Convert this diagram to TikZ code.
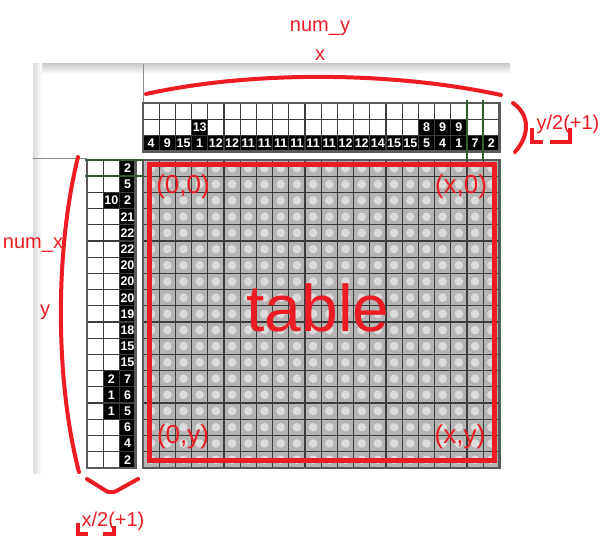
\documentclass[tikz,border=0pt]{standalone}
\usepackage{fontspec}
\setmainfont{Liberation Sans}
\definecolor{pred}{HTML}{ED1C24}
\definecolor{cellgrey}{HTML}{B4B4B4}
\definecolor{dotgrey}{HTML}{DCDCDC}
\definecolor{gridc}{HTML}{3C3C3C}
\definecolor{gline}{HTML}{2E5E2E}
\tikzset{
  thinl/.style={gridc, line width=1pt},
  thickl/.style={gridc, line width=2pt},
  borderl/.style={gridc!85!white, line width=2.6pt},
  clue/.style={text=white, font=\fontsize{12.5}{13}\selectfont\bfseries, inner sep=0pt},
  redtxt/.style={text=pred, inner sep=0pt},
  redline/.style={pred, line width=4.5pt},
  greenl/.style={gline, line width=2pt},
}
\begin{document}
\begin{tikzpicture}[x=1pt,y=-1pt]
\useasboundingbox (0,0) rectangle (613,556);
\fill[white] (0,0) rectangle (613,556);
% panel background
\shade[top color=black!20, bottom color=white] (33,64) rectangle (510,74);
\shade[left color=black!14, right color=white] (33,64) rectangle (42,473);
\draw[black!45, line width=0.8pt] (143,64) -- (143,103);
\draw[black!45, line width=0.8pt] (33,158) -- (87,158);
% main table
\begin{scope}[shift={(143,160)}, x=16.2pt, y=-16.2pt]
  \fill[cellgrey] (0,0) rectangle (22,19);
  \foreach \i in {0,...,21} \foreach \j in {0,...,18} \fill[dotgrey] (\i+.5,\j+.5) circle (4.3pt);
  \foreach \i in {0,...,22} \draw[thinl] (\i,0) -- (\i,19);
  \foreach \j in {0,...,19} \draw[thinl] (0,\j) -- (22,\j);
  \foreach \i in {5,10,15,20} \draw[thickl] (\i,0) -- (\i,19);
  \foreach \j in {5,10,15} \draw[thickl] (0,\j) -- (22,\j);
  \draw[borderl] (0,0) rectangle (22,19);
\end{scope}
% top clues
\begin{scope}[shift={(143,103)}, x=16.2pt, y=-16.2pt]
  \fill[white] (0,0) rectangle (22,3);
  \fill[black] (0,2) rectangle (22,3);
  \fill[black] (3,1) rectangle (4,2);
  \fill[black] (17,1) rectangle (20,2);
  \foreach \i in {0,...,22} \draw[thinl] (\i,0) -- (\i,3);
  \foreach \j in {0,...,3} \draw[thinl] (0,\j) -- (22,\j);
  \foreach \i in {5,10,15,20} \draw[thickl] (\i,0) -- (\i,3);
  \draw[borderl] (0,0) rectangle (22,3);
  \foreach \n [count=\i from 0] in {4,9,15,1,12,12,11,11,11,11,11,11,12,12,14,15,15,5,4,1,7,2}
    \node[clue] (tb\i) at (\i+.5,2.5) {\n};
  \node[clue] (tm3) at (3.5,1.5) {13};
  \node[clue] (tm17) at (17.5,1.5) {8};
  \node[clue] (tm18) at (18.5,1.5) {9};
  \node[clue] (tm19) at (19.5,1.5) {9};
\end{scope}
% left clues
\begin{scope}[shift={(87,160)}, x=16.2pt, y=-16.2pt]
  \fill[white] (0,0) rectangle (3,19);
  \fill[black] (2,0) rectangle (3,19);
  \fill[black] (1,2) rectangle (2,3);
  \fill[black] (1,13) rectangle (2,16);
  \foreach \i in {0,...,3} \draw[thinl] (\i,0) -- (\i,19);
  \foreach \j in {0,...,19} \draw[thinl] (0,\j) -- (3,\j);
  \foreach \j in {5,10,15} \draw[thickl] (0,\j) -- (3,\j);
  \draw[borderl] (0,0) rectangle (3,19);
  \foreach \n [count=\j from 0] in {2,5,2,21,22,22,20,20,20,19,18,15,15,7,6,5,6,4,2}
    \node[clue] (lr\j) at (2.5,\j+.5) {\n};
  \node[clue] (lm2) at (1.5,2.5) {10};
  \node[clue] (lm13) at (1.5,13.5) {2};
  \node[clue] (lm14) at (1.5,14.5) {1};
  \node[clue] (lm15) at (1.5,15.5) {1};
\end{scope}
% green marker lines
\draw[greenl] (467,100) -- (467,161);
\draw[greenl] (483.4,100) -- (483.4,161);
\draw[greenl] (85,160) -- (144,160);
\draw[greenl] (85,176.2) -- (144,176.2);
% red annotations
\draw[redline, line width=4.5pt] (149.5,164.5) rectangle (494.5,460.5);
\draw[redline, line width=4pt, line cap=round] (146,94) .. controls (250,71) and (390,71) .. (501,95);
\draw[redline, line width=4pt, line cap=round] (78,157) .. controls (55,250) and (55,380) .. (79,472);
\draw[redline, line width=4pt, line cap=round, rounded corners=6pt] (87,479) -- (111,494) -- (138,479);
\draw[redline, line width=4pt, line cap=round] (513,103) .. controls (530,115) and (530,135) .. (515,152);
\draw[redline, line width=4pt] (78,523) -- (78,534) -- (88,534);
\draw[redline, line width=4pt] (103,534) -- (114,534) -- (114,526);
\draw[redline, line width=4pt] (532,128) -- (532,142) -- (543,142);
\draw[redline, line width=4pt] (550,142) -- (570,142) -- (570,128);
% red texts
\node[redtxt, font=\fontsize{20}{24}\selectfont] (numy) at (320,28) {num\_y};
\node[redtxt, font=\fontsize{20}{24}\selectfont] (xlab) at (320,55) {x};
\node[redtxt, font=\fontsize{20}{24}\selectfont] (numx) at (33,245) {num\_x};
\node[redtxt, font=\fontsize{20}{24}\selectfont] (ylab) at (45,312) {y};
\node[redtxt, font=\fontsize{20}{24}\selectfont] (xhalf) at (113,521) {x/2(+1)};
\node[redtxt, font=\fontsize{20}{24}\selectfont] (yhalf) at (568,124) {y/2(+1)};
\node[redtxt, font=\fontsize{26}{30}\selectfont] (c00) at (183,187) {(0,0)};
\node[redtxt, font=\fontsize{26}{30}\selectfont] (cx0) at (461,187) {(x,0)};
\node[redtxt, font=\fontsize{26}{30}\selectfont] (c0y) at (183,437) {(0,y)};
\node[redtxt, font=\fontsize{26}{30}\selectfont] (cxy) at (460,437) {(x,y)};
\node[redtxt, font=\fontsize{66}{70}\selectfont] (tbl) at (318,308) {table};
\end{tikzpicture}
\end{document}
